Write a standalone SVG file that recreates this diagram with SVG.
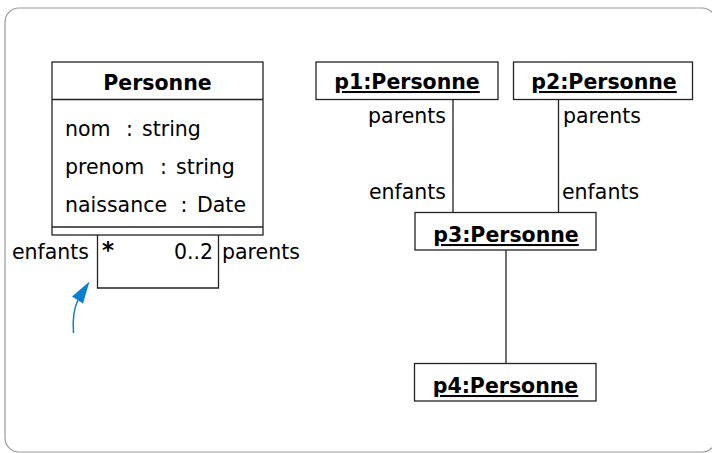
<svg xmlns="http://www.w3.org/2000/svg" width="712" height="453" viewBox="0 0 712 453">
<style>
text{font-family:"DejaVu Sans","Liberation Sans",sans-serif;font-size:20.5px;fill:#000}
.b{font-weight:bold}
.u{text-decoration:underline}
.box{fill:#fff;stroke:#222;stroke-width:1.3}
.ln{fill:none;stroke:#222;stroke-width:1.3}
.frame{fill:#fff;stroke:#999;stroke-width:1.2}
</style>
<rect class="frame" x="5" y="8" width="711" height="444" rx="14"/>
<g id="connectors">
<polyline class="ln" points="97.5,235 97.5,288 218.5,288 218.5,235"/>
<line class="ln" x1="453" y1="99" x2="453" y2="212"/>
<line class="ln" x1="558.5" y1="99" x2="558.5" y2="212"/>
<line class="ln" x1="506" y1="250" x2="506" y2="363"/>
<path d="M73.5,333 C72.5,320 74,308 78,300" fill="none" stroke="#0b7fd0" stroke-width="1.5"/>
<polygon points="89.5,281.5 72,296.5 83,303.5" fill="#0b7fd0"/>
<text x="89" y="259" text-anchor="end">enfants</text>
<text class="b" x="102" y="258" style="font-size:23px">*</text>
<text x="213" y="259" text-anchor="end">0..2</text>
<text x="222" y="259">parents</text>
<text x="446" y="123" text-anchor="end">parents</text>
<text x="446" y="199" text-anchor="end">enfants</text>
<text x="563" y="123">parents</text>
<text x="562" y="199">enfants</text>
</g>
<g id="Personne">
<rect class="box" x="52" y="62" width="211" height="173"/>
<line class="ln" x1="52" y1="99.5" x2="263" y2="99.5"/>
<line class="ln" x1="52" y1="227" x2="263" y2="227"/>
<text class="b" x="157.5" y="90" text-anchor="middle">Personne</text>
<text y="136"><tspan x="65">nom</tspan><tspan x="126">:</tspan><tspan x="142">string</tspan></text>
<text y="174"><tspan x="65">prenom</tspan><tspan x="160">:</tspan><tspan x="176">string</tspan></text>
<text y="212"><tspan x="65">naissance</tspan><tspan x="180.5">:</tspan><tspan x="197">Date</tspan></text>
</g>
<g id="p1">
<rect class="box" x="316" y="62" width="182" height="37.5"/>
<text class="b u" x="407" y="89" text-anchor="middle">p1:Personne</text>
</g>
<g id="p2">
<rect class="box" x="513.5" y="62" width="179" height="37.5"/>
<text class="b u" x="604" y="89" text-anchor="middle">p2:Personne</text>
</g>
<g id="p3">
<rect class="box" x="415" y="212.5" width="181" height="37.5"/>
<text class="b u" x="506" y="242" text-anchor="middle">p3:Personne</text>
</g>
<g id="p4">
<rect class="box" x="414.5" y="363.5" width="181.5" height="37.5"/>
<text class="b u" x="505.5" y="393" text-anchor="middle">p4:Personne</text>
</g>
</svg>
